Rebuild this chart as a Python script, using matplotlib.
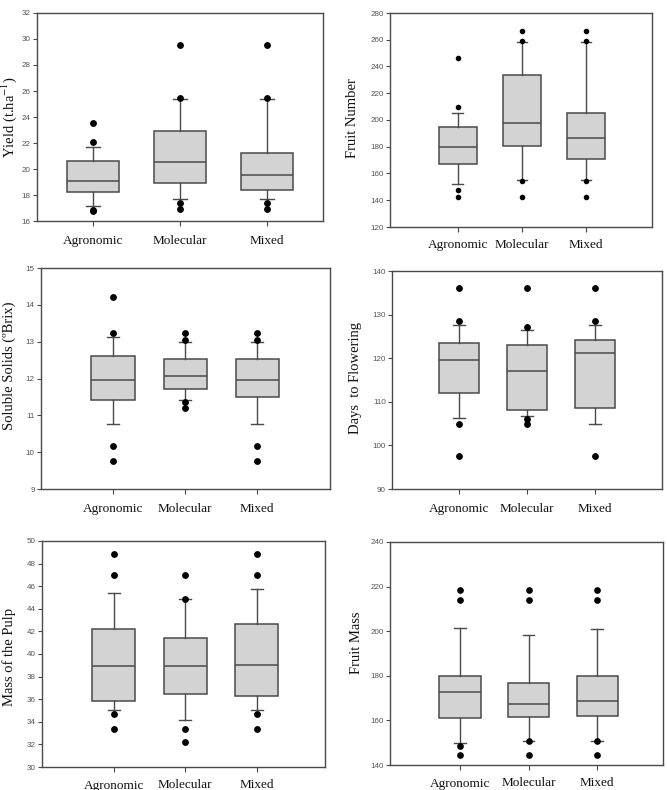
import matplotlib
matplotlib.use("Agg")
import matplotlib.pyplot as plt

plt.rcParams['mathtext.fontset'] = 'stix'

categories = ["Agronomic", "Molecular", "Mixed"]

# five-number summaries per category: [whisker low, Q1, median, Q3, whisker high]
yield_stats = [[17.18, 18.25, 19.07, 20.63, 21.68],
               [17.72, 18.94, 20.50, 22.96, 25.37],
               [17.72, 18.41, 19.53, 21.25, 25.37]]
yield_fliers = [[23.55, 22.04, 16.85, 16.80],
                [29.57, 25.47, 17.36, 16.90],
                [29.57, 25.47, 17.36, 16.90]]

fruitnum_stats = [[152.0, 167.3, 180.0, 194.5, 205.0],
                  [155.0, 180.3, 198.0, 233.3, 258.0],
                  [155.0, 171.0, 186.5, 205.3, 258.0]]
fruitnum_fliers = [[246.5, 210.0, 148.0, 142.5],
                   [266.3, 258.8, 154.3, 142.5],
                   [266.3, 258.8, 154.3, 142.5]]

brix_stats = [[10.76, 11.41, 11.95, 12.61, 13.14],
              [11.41, 11.71, 12.06, 12.54, 12.98],
              [10.76, 11.51, 11.95, 12.54, 12.98]]
brix_fliers = [[14.21, 13.24, 10.16, 9.76],
               [13.24, 13.05, 11.35, 11.21],
               [13.24, 13.05, 10.16, 9.76]]

days_stats = [[106.2, 112.0, 119.6, 123.5, 127.7],
              [106.7, 108.2, 117.1, 123.0, 126.5],
              [105.0, 108.5, 121.1, 124.2, 127.7]]
days_fliers = [[136.1, 128.6, 105.0, 97.5],
               [136.1, 127.1, 106.0, 105.0],
               [136.1, 128.6, 97.5]]

pulp_stats = [[35.01, 35.81, 38.91, 42.24, 45.37],
              [34.13, 36.49, 38.91, 41.42, 44.90],
              [35.01, 36.31, 39.03, 42.63, 45.78]]
pulp_fliers = [[48.82, 46.96, 34.72, 33.33],
               [46.96, 44.90, 33.33, 32.21],
               [48.82, 46.96, 34.72, 33.33]]

fmass_stats = [[149.7, 161.2, 172.8, 180.1, 201.5],
               [150.7, 161.6, 167.2, 176.6, 198.5],
               [150.7, 162.1, 168.8, 180.1, 201.2]]
fmass_fliers = [[218.4, 213.9, 148.5, 144.5],
                [218.4, 213.9, 150.7, 144.5],
                [218.4, 213.9, 150.7, 144.5]]

W, H = 667, 790
fig = plt.figure(figsize=(W / 100, H / 100), dpi=100)

edge = "#4a4a4a"
serif = ["Liberation Serif", "DejaVu Serif"]


def px_rect(l, r, t, b):
    return [l / W, 1 - b / H, (r - l) / W, (b - t) / H]


panels = [
    # stats, fliers, ylabel, rect(px), ylim, ytick step, xlim, label centre (px), marker size, label pad
    (yield_stats, yield_fliers, "Yield (t.ha$^{-1}$)", (37, 323, 13, 221), (16, 32), 2,
     (0.356, 3.644), (9, 117), 3.9, 6.5),
    (fruitnum_stats, fruitnum_fliers, "Fruit Number", (390, 652, 13, 227), (120, 280), 20,
     (-0.06, 4.03), (352, 118), 3.0, 5.0),
    (brix_stats, brix_fliers, "Soluble Solids (ºBrix)", (41, 330, 268, 489), (9, 15), 1,
     (0.0, 4.01), (9, 366), 3.9, 6.5),
    (days_stats, days_fliers, "Days  to Flowering", (392, 662, 271, 489), (90, 140), 10,
     (0.015, 3.985), (356, 378), 3.9, 6.5),
    (pulp_stats, pulp_fliers, "Mass of the Pulp", (42, 325, 541, 767), (30, 50), 2,
     (0.0, 3.95), (9, 657), 3.9, 5.5),
    (fmass_stats, fmass_fliers, "Fruit Mass", (390, 663, 542, 765), (140, 240), 20,
     (-0.02, 3.96), (356, 643), 3.8, 5.5),
]

for stats, fliers, ylabel, rect, ylim, step, xlim, lc, ms, pad in panels:
    ax = fig.add_axes(px_rect(*rect))
    bstats = []
    for s, f, c in zip(stats, fliers, categories):
        bstats.append(dict(whislo=s[0], q1=s[1], med=s[2], q3=s[3], whishi=s[4],
                           fliers=f, label=c))
    ax.bxp(bstats, positions=[1, 2, 3], widths=0.6, patch_artist=True,
           showfliers=True, capwidths=0.17,
           boxprops=dict(facecolor="#d3d3d3", edgecolor=edge, linewidth=1.1),
           medianprops=dict(color=edge, linewidth=1.1),
           whiskerprops=dict(color=edge, linewidth=1.0),
           capprops=dict(color=edge, linewidth=1.0),
           flierprops=dict(marker="o", markerfacecolor="black", markeredgecolor="black",
                           markersize=ms, linestyle="none"))
    ax.set_xlim(*xlim)
    ax.set_ylim(*ylim)
    yt = list(range(ylim[0], ylim[1] + 1, step))
    ax.set_yticks(yt)
    ax.set_yticklabels([str(v) for v in yt], fontsize=5.8, color="#555555",
                       family=["Liberation Sans", "DejaVu Sans"])
    ax.set_xticks([1, 2, 3])
    ax.set_xticklabels(categories, fontsize=9.5, family=serif, color="#111111")
    ax.tick_params(axis="y", direction="out", length=3, width=0.8, color=edge, pad=1.5)
    ax.tick_params(axis="x", direction="out", length=3.5, width=0.8, color=edge, pad=pad)
    for sp in ax.spines.values():
        sp.set_color(edge)
        sp.set_linewidth(1.0)
    # y label centred at the given figure pixel position
    fig.text(lc[0] / W, 1 - lc[1] / H, ylabel, rotation=90, ha="center", va="center",
             fontsize=10.5, family=serif, color="#111111")

fig.savefig("out.png", dpi=100, facecolor="white")
